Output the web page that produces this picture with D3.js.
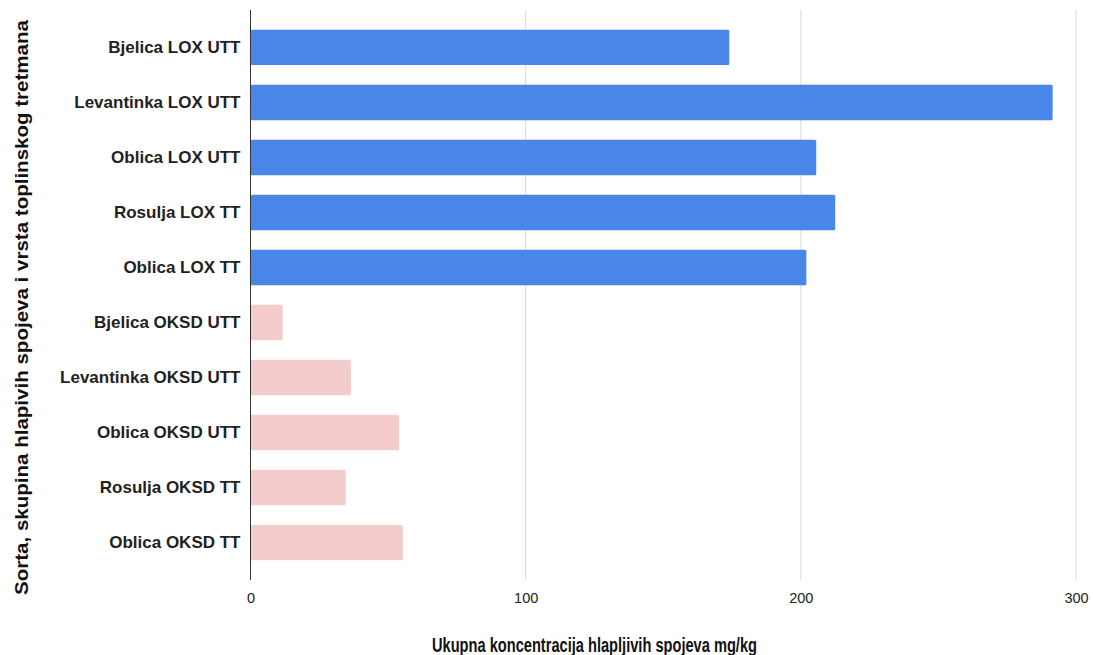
<!DOCTYPE html>
<html lang="hr">
<head>
<meta charset="UTF-8">
<title>Ukupna koncentracija hlapljivih spojeva</title>
<style>
  html, body { margin: 0; padding: 0; background: #fff; overflow: hidden; }
  svg { display: block; }
</style>
</head>
<body>
<div id="chart"></div>
<script src="https://d3js.org/d3.v7.min.js"></script>
<script>
// podaci
const categories = [
  'Bjelica LOX UTT', 'Levantinka LOX UTT', 'Oblica LOX UTT', 'Rosulja LOX TT', 'Oblica LOX TT',
  'Bjelica OKSD UTT', 'Levantinka OKSD UTT', 'Oblica OKSD UTT', 'Rosulja OKSD TT', 'Oblica OKSD TT'
];
const values = [174, 291.5, 205.6, 212.5, 202, 11.7, 36.5, 54, 34.6, 55.4];
const groups = ['LOX', 'LOX', 'LOX', 'LOX', 'LOX', 'OKSD', 'OKSD', 'OKSD', 'OKSD', 'OKSD'];
const xTicks = [0, 100, 200, 300];

const width = 1093, height = 655;
const margin = { top: 10, right: 17, bottom: 75, left: 250.5 };

const svg = d3.select('#chart').append('svg')
  .attr('width', width)
  .attr('height', height);

const x = d3.scaleLinear()
  .domain([0, 300])
  .range([margin.left, width - margin.right]);

const y = d3.scaleBand()
  .domain(categories)
  .range([margin.top, height - margin.bottom])
  .paddingInner(0.357)
  .paddingOuter(0.359);

const color = d3.scaleOrdinal()
  .domain(['LOX', 'OKSD'])
  .range(['#4a86e8', '#f4cccc']);

// mreža
svg.append('g')
  .selectAll('line')
  .data(xTicks.filter(d => d > 0))
  .join('line')
  .attr('x1', d => x(d)).attr('x2', d => x(d))
  .attr('y1', margin.top).attr('y2', height - margin.bottom)
  .attr('stroke', '#d9d9d9')
  .attr('stroke-width', 1);

// stupci
svg.append('g')
  .selectAll('rect')
  .data(categories)
  .join('rect')
  .attr('x', x(0))
  .attr('y', d => y(d))
  .attr('width', (d, i) => x(values[i]) - x(0))
  .attr('height', y.bandwidth())
  .attr('rx', 1.5)
  .attr('fill', (d, i) => color(groups[i]));

// os x
const xAxis = d3.axisBottom(x).tickValues(xTicks).tickSize(0).tickPadding(13);
svg.append('g')
  .attr('transform', `translate(0,${height - margin.bottom})`)
  .call(xAxis)
  .call(g => g.select('.domain').remove())
  .selectAll('text')
  .attr('font-family', 'Liberation Sans, Arial, sans-serif')
  .attr('font-size', 14.5)
  .attr('fill', '#222');

// os y
const yAxis = d3.axisLeft(y).tickSize(0).tickPadding(10);
svg.append('g')
  .attr('transform', `translate(${x(0)},0)`)
  .call(yAxis)
  .call(g => g.select('.domain').remove())
  .selectAll('text')
  .attr('font-family', 'Liberation Sans, Arial, sans-serif')
  .attr('font-size', 17)
  .attr('font-weight', 'bold')
  .attr('fill', '#222');

// nulta linija
svg.append('line')
  .attr('x1', x(0)).attr('x2', x(0))
  .attr('y1', margin.top).attr('y2', height - margin.bottom)
  .attr('stroke', '#333')
  .attr('stroke-width', 1);

// naslovi osi
svg.append('text')
  .attr('x', 432)
  .attr('y', 652)
  .attr('font-family', 'Liberation Sans, Arial, sans-serif')
  .attr('font-size', 20)
  .attr('font-weight', 'bold')
  .attr('fill', '#111')
  .attr('textLength', 325)
  .attr('lengthAdjust', 'spacingAndGlyphs')
  .text('Ukupna koncentracija hlapljivih spojeva mg/kg');

svg.append('text')
  .attr('transform', 'translate(28,595) rotate(-90)')
  .attr('font-family', 'Liberation Sans, Arial, sans-serif')
  .attr('font-size', 18.5)
  .attr('font-weight', 'bold')
  .attr('fill', '#111')
  .attr('textLength', 575)
  .attr('lengthAdjust', 'spacingAndGlyphs')
  .text('Sorta, skupina hlapivih spojeva i vrsta toplinskog tretmana');
</script>
</body>
</html>
